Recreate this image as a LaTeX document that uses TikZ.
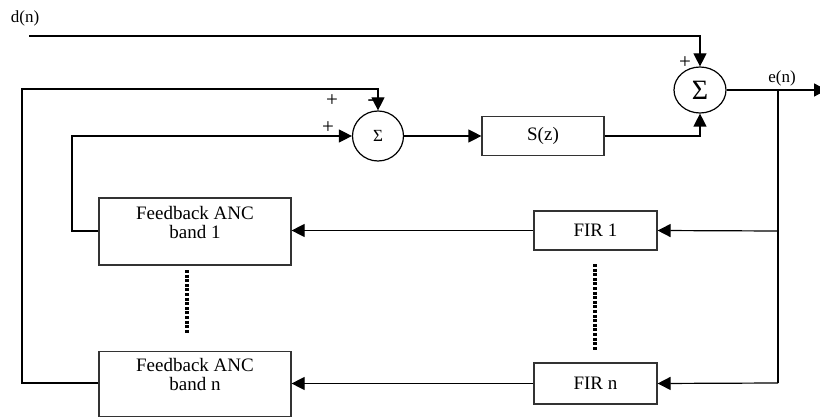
\documentclass[tikz,border=0pt]{standalone}
\usepackage{fontspec}
\setmainfont{Liberation Serif}
\usetikzlibrary{arrows.meta,shapes.geometric}
\begin{document}
\begin{tikzpicture}[x=1pt,y=-1pt,
  line width=1.2pt,
  tip/.style={-{Triangle[length=13pt,width=13pt]}},
  blk/.style={draw=black!80,rectangle,line width=1.2pt,inner sep=0pt,align=center,font=\fontsize{19}{19}\selectfont},
  sumnode/.style={draw,ellipse,inner sep=0pt},
  lbl/.style={inner sep=0pt,font=\fontsize{17}{17}\selectfont},
  pm/.style={inner sep=0pt,font=\fontsize{21}{21}\selectfont},
  dots/.style={line width=4.5pt,dash pattern=on 3pt off 1.6pt}]
\useasboundingbox (0,0) rectangle (820,417);
% nodes
\node[sumnode,minimum width=51pt,minimum height=50pt,font=\fontsize{17}{17}\selectfont] (s1) at (378,136) {Σ};
\node[sumnode,minimum width=52pt,minimum height=46pt,font=\fontsize{28}{28}\selectfont] (s2) at (700,90) {Σ};
\node[blk,minimum width=122pt,minimum height=39pt] (sz) at (543,136) {S(z)};
\node[blk,minimum width=123pt,minimum height=39pt] (f1) at (595.5,230.5) {FIR 1};
\node[blk,minimum width=123pt,minimum height=41pt] (fn) at (595.5,383.5) {FIR n};
\node[blk,minimum width=192pt,minimum height=67pt] (b1) at (195,231.5) {Feedback ANC\\band 1\\\mbox{}};
\node[blk,minimum width=192pt,minimum height=65pt] (bn) at (195,384) {Feedback ANC\\band n\\\mbox{}};
% labels
\node[lbl] (ldn) at (25,18) {d(n)};
\node[lbl] (len) at (782,78) {e(n)};
\node[pm] (p1) at (332,101) {+};
\node[pm] (m1) at (371,103) {-};
\node[pm] (p2) at (328,128) {+};
\node[pm] (p3) at (685,63) {+};
% coordinates
\coordinate (dstart) at (29,36);
\coordinate (eout) at (827,90);
\coordinate (br) at (778,90);
\coordinate (br1) at (778,231);
\coordinate (brn) at (778,383);
% connectors
\draw[tip] (dstart) -| (s2.north);
\draw[tip] (s2.east) -- (eout);
\draw (br) -- (brn);
\draw[tip] (br1) -- (f1.east);
\draw[tip] (brn) -- (fn.east);
\draw[tip] (f1.west) -- (f1.west -| b1.east);
\draw[tip] (fn.west) -- (fn.west -| bn.east);
\draw[tip] (s1.east) -- (sz.west);
\draw[tip] (sz.east) -| (s2.south);
\draw[tip] (b1.west |- br1) -- (72,231) |- (s1.west);
\draw[tip] (bn.west |- brn) -- (22,383) |- (378,89) -- (s1.north);
% dotted ellipses
\draw[dots] (187,270) -- (187,334);
\draw[dots] (595,264) -- (595,351);
\end{tikzpicture}
\end{document}
